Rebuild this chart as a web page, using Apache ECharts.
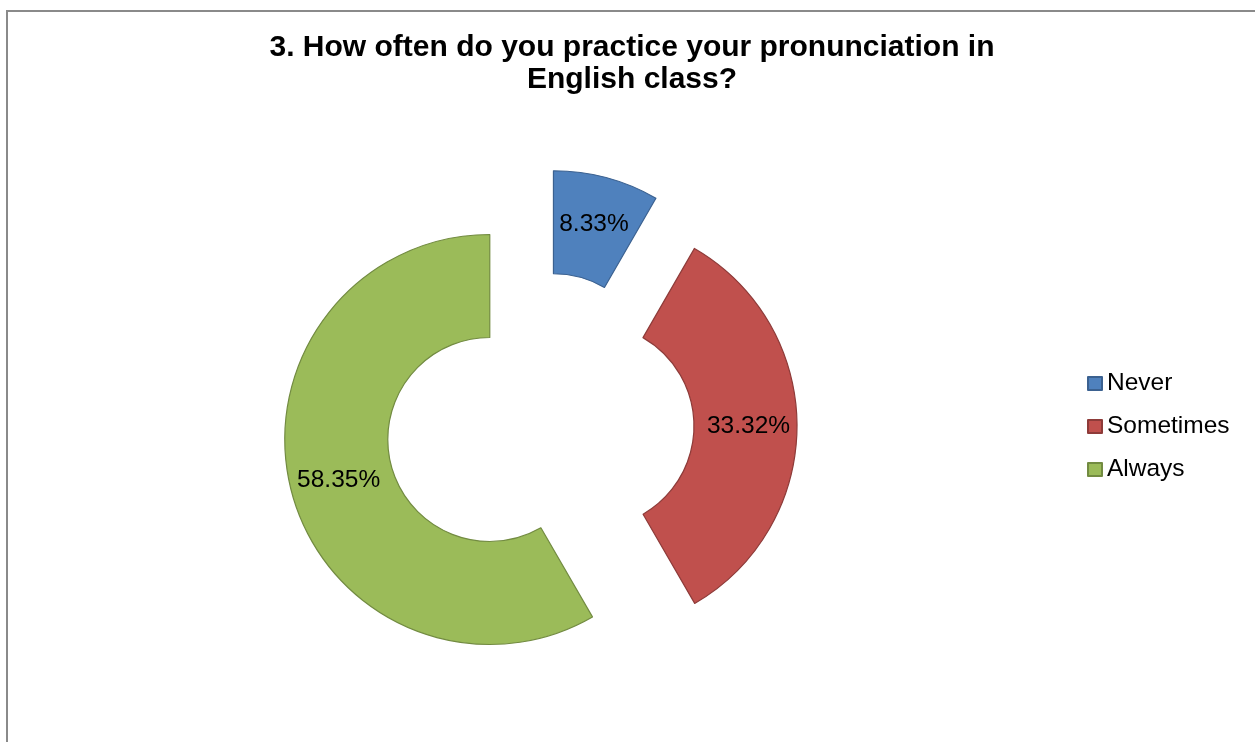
<!DOCTYPE html>
<html>
<head>
<meta charset="utf-8">
<script src="https://cdn.jsdelivr.net/npm/echarts@6/dist/echarts.min.js"></script>
<style>
  html, body { margin: 0; padding: 0; background: #ffffff; }
  #chart { width: 1255px; height: 742px; }
</style>
</head>
<body>
<div id="chart"></div>
<script>
// Survey answers and their shares (percent)
const categories = ['Never', 'Sometimes', 'Always'];
const shares = [8.33, 33.32, 58.35];
const titleText = '3. How often do you practice your pronunciation in\nEnglish class?';

// Slice palette: fill and outline colours
const fillColors = ['#4F81BD', '#C0504D', '#9BBB59'];
const edgeColors = ['#3B6190', '#8E3B39', '#728B41'];

const chart = echarts.init(document.getElementById('chart'), null, { renderer: 'canvas' });

const pieData = categories.map((name, i) => {
  const style = { color: fillColors[i], borderColor: edgeColors[i], borderWidth: 1.2 };
  return {
    name: name,
    value: shares[i],
    selected: true,
    itemStyle: style,
    select: { itemStyle: style }
  };
});

chart.setOption({
  animation: false,
  backgroundColor: '#ffffff',
  title: {
    text: titleText,
    left: 632,
    textAlign: 'center',
    top: 32,
    padding: 0,
    textStyle: {
      fontFamily: 'Liberation Sans',
      fontWeight: 'bold',
      fontSize: 30,
      lineHeight: 32,
      color: '#000000'
    }
  },
  legend: {
    orient: 'vertical',
    left: 1087,
    top: 371,
    padding: 0,
    itemWidth: 14,
    itemHeight: 13,
    itemGap: 18,
    icon: 'rect',
    selectedMode: false,
    textStyle: {
      fontFamily: 'Liberation Sans',
      fontSize: 24.5,
      lineHeight: 24.5,
      color: '#000000'
    },
    data: categories
  },
  graphic: [{
    type: 'rect',
    silent: true,
    shape: { x: 7, y: 11, width: 1400, height: 900 },
    style: { fill: null, stroke: '#8A8A8A', lineWidth: 2 }
  }],
  series: [{
    type: 'pie',
    center: [540, 426],
    radius: [102, 205],
    startAngle: 90,
    clockwise: true,
    selectedMode: 'multiple',
    selectedOffset: 52,
    avoidLabelOverlap: false,
    emphasis: { disabled: true },
    label: {
      show: true,
      position: 'inside',
      formatter: '{c}%',
      fontFamily: 'Liberation Sans',
      fontSize: 24.5,
      padding: [6, 0, 0, 0],
      color: '#000000'
    },
    labelLine: { show: false },
    data: pieData
  }]
});
</script>
</body>
</html>
